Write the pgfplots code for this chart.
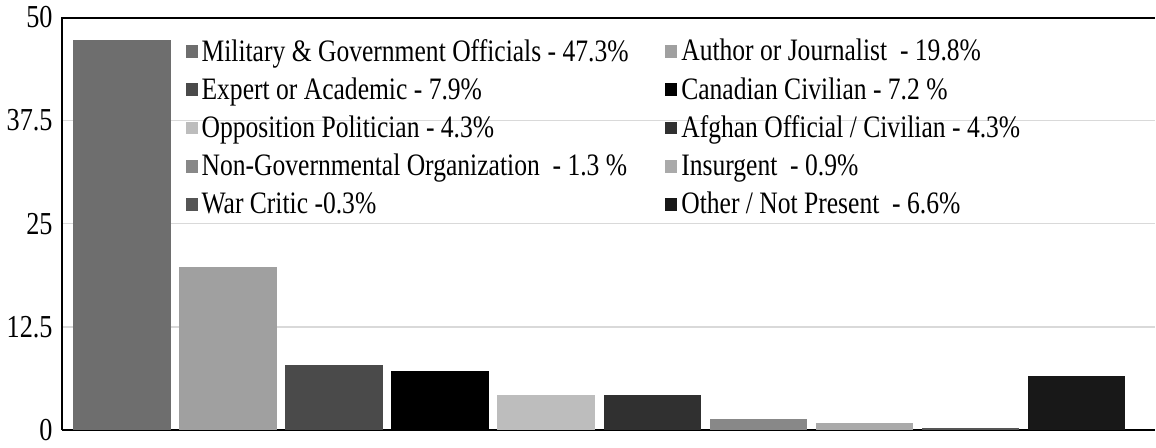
\documentclass[border=0pt]{standalone}
\usepackage{fontspec}
\setmainfont{Liberation Serif}[FakeStretch=0.82]
\usepackage{pgfplots}
\pgfplotsset{compat=1.18}

\definecolor{c1}{HTML}{6E6E6E}
\definecolor{c2}{HTML}{A0A0A0}
\definecolor{c3}{HTML}{4A4A4A}
\definecolor{c4}{HTML}{000000}
\definecolor{c5}{HTML}{BDBDBD}
\definecolor{c6}{HTML}{303030}
\definecolor{c7}{HTML}{888888}
\definecolor{c8}{HTML}{AAAAAA}
\definecolor{c9}{HTML}{555555}
\definecolor{c10}{HTML}{181818}

\newcommand{\colA}[1]{\makebox[230pt][l]{#1}}

\begin{document}
\begin{tikzpicture}
\begin{axis}[
    scale only axis,
    width=547pt, height=206.5pt,
    xmin=-0.57, xmax=9.74,
    ymin=0, ymax=50,
    ytick={0,12.5,25,37.5,50},
    yticklabels={0,12.5,25,37.5,50},
    xtick=\empty,
    major tick length=0pt,
    axis lines=left,
    axis line style={-, line width=1pt},
    ymajorgrids,
    grid style={line width=0.6pt, color=gray!30},
    ticklabel style={font=\fontsize{16}{16}\selectfont},
    /pgf/number format/assume math mode=true,
    yticklabel style={xshift=-1pt},
    ybar, bar width=0.92, bar shift=0pt,
    legend columns=2,
    legend cell align=left,
    legend style={at={(rel axis cs:0.113,0.958)}, anchor=north west,
        draw=none, fill=none, inner sep=0pt, row sep=2.7pt,
        font=\fontsize{15.6}{15.6}\selectfont},
    legend image code/.code={\fill[#1] (0pt,-3.2pt) rectangle (6pt,3.2pt);},
]
\addplot[fill=c1, draw=none] coordinates {(0,47.3)};
\addlegendentry{\colA{Military \& Government Officials - 47.3\%}}
\addplot[fill=c2, draw=none] coordinates {(1,19.8)};
\addlegendentry{Author or Journalist\ \ - 19.8\%}
\addplot[fill=c3, draw=none] coordinates {(2,7.9)};
\addlegendentry{\colA{Expert or Academic - 7.9\%}}
\addplot[fill=c4, draw=none] coordinates {(3,7.2)};
\addlegendentry{Canadian Civilian - 7.2 \%}
\addplot[fill=c5, draw=none] coordinates {(4,4.3)};
\addlegendentry{\colA{Opposition Politician - 4.3\%}}
\addplot[fill=c6, draw=none] coordinates {(5,4.3)};
\addlegendentry{Afghan Official / Civilian - 4.3\%}
\addplot[fill=c7, draw=none] coordinates {(6,1.3)};
\addlegendentry{\colA{Non-Governmental Organization\ \ - 1.3 \%}}
\addplot[fill=c8, draw=none] coordinates {(7,0.9)};
\addlegendentry{Insurgent\ \ - 0.9\%}
\addplot[fill=c9, draw=none] coordinates {(8,0.3)};
\addlegendentry{\colA{War Critic -0.3\%}}
\addplot[fill=c10, draw=none] coordinates {(9,6.6)};
\addlegendentry{Other / Not Present\ \ - 6.6\%}
\draw[line width=1.5pt] (rel axis cs:0,1) -- (rel axis cs:1,1);
\end{axis}
\end{tikzpicture}
\end{document}
